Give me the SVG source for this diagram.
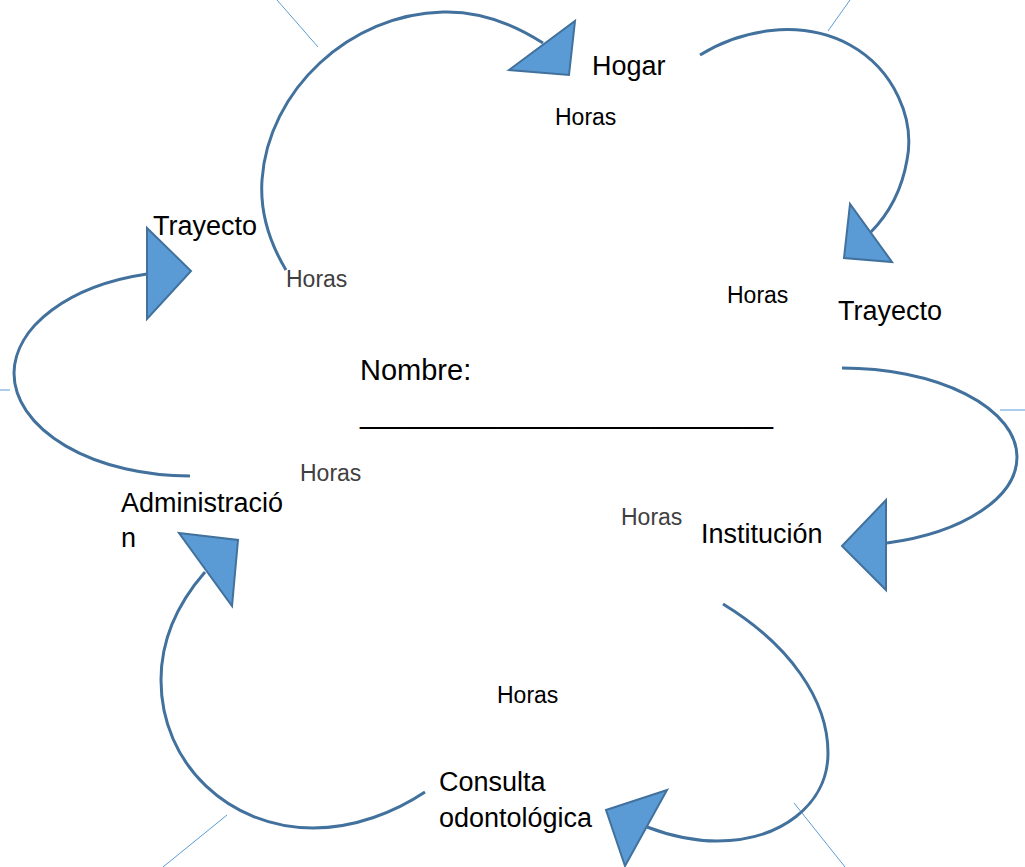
<svg xmlns="http://www.w3.org/2000/svg" width="1025" height="867" viewBox="0 0 1025 867">
  <style>
    .arc { fill: none; stroke: #41719c; stroke-width: 3; }
    .head { fill: #5b9bd5; stroke: #41719c; stroke-width: 2; stroke-linejoin: miter; }
    .tick { fill: none; stroke: #5b9bd5; stroke-width: 1; }
    .lbl { font-family: "Liberation Sans", Arial, sans-serif; font-size: 27px; fill: #000; }
    .hrs { font-family: "Liberation Sans", Arial, sans-serif; font-size: 23px; fill: #000; }
    .hrs-g { font-family: "Liberation Sans", Arial, sans-serif; font-size: 23px; fill: #404040; }
    .title { font-family: "Liberation Sans", Arial, sans-serif; font-size: 29px; fill: #000; }
  </style>
  <rect width="1025" height="867" fill="#ffffff"/>

  <!-- thin spokes around the cycle -->
  <g id="spokes">
    <line class="tick" x1="277" y1="0" x2="318" y2="47"/>
    <line class="tick" x1="850" y1="0" x2="828" y2="31"/>
    <line class="tick" x1="0" y1="390" x2="10" y2="390"/>
    <line class="tick" x1="1000" y1="410" x2="1025" y2="410"/>
    <line class="tick" x1="227" y1="815" x2="163" y2="867"/>
    <line class="tick" x1="794" y1="803" x2="845" y2="867"/>
  </g>

  <!-- curved arrows linking the stages -->
  <g id="connectors">
    <path class="arc" d="M286,270 C268,240 260,210 262,180 C268,90 350,14 443,12 C480,11 515,25 543,43"/>
    <polygon class="head" points="509,70 575,21 569,75"/>

    <path class="arc" d="M700,55 C740,30 800,18 850,45 C895,70 915,120 907,160 C901,195 885,218 870,233"/>
    <polygon class="head" points="850,204 844,258 892,262"/>

    <path class="arc" d="M842,368 A175,89 0 0 1 1017,457 A175,89 0 0 1 887,543"/>
    <polygon class="head" points="842,546 886,500 886,590"/>

    <path class="arc" d="M723,604 C790,645 828,700 828,753 C828,805 780,841 717,841 C693,841 668,835 647,827"/>
    <polygon class="head" points="606,810 667,790 625,866"/>

    <path class="arc" d="M425,792 C395,812 355,828 313,828 C230,828 161,765 161,680 C161,640 178,603 205,572"/>
    <polygon class="head" points="179,533 238,540 232,606"/>

    <path class="arc" d="M190,476 A176,103 0 0 1 14,373 A176,103 0 0 1 147,274"/>
    <polygon class="head" points="147,228 191,271 147,319"/>
  </g>

  <g id="hogar"><text class="lbl" x="592" y="75">Hogar</text></g>
  <g id="horas-hogar"><text class="hrs" x="555" y="125">Horas</text></g>

  <g id="trayecto-derecha"><text class="lbl" x="838" y="320">Trayecto</text></g>
  <g id="horas-trayecto-derecha"><text class="hrs" x="727" y="303">Horas</text></g>

  <g id="institucion"><text class="lbl" x="701" y="543">Institución</text></g>
  <g id="horas-institucion"><text class="hrs-g" x="621" y="525">Horas</text></g>

  <g id="consulta"><text class="lbl" x="439" y="791">Consulta</text><text class="lbl" x="439" y="827">odontológica</text></g>
  <g id="horas-consulta"><text class="hrs" x="497" y="703">Horas</text></g>

  <g id="administracion"><text class="lbl" x="121" y="512">Administració</text><text class="lbl" x="121" y="547">n</text></g>
  <g id="horas-administracion"><text class="hrs-g" x="300" y="481">Horas</text></g>

  <g id="trayecto-izquierda"><text class="lbl" x="153" y="235">Trayecto</text></g>
  <g id="horas-trayecto-izquierda"><text class="hrs-g" x="286" y="287">Horas</text></g>

  <g id="nombre">
    <text class="title" x="360" y="380">Nombre:</text>
    <text class="title" x="360" y="423" textLength="413" lengthAdjust="spacingAndGlyphs">___________________________</text>
  </g>
</svg>
